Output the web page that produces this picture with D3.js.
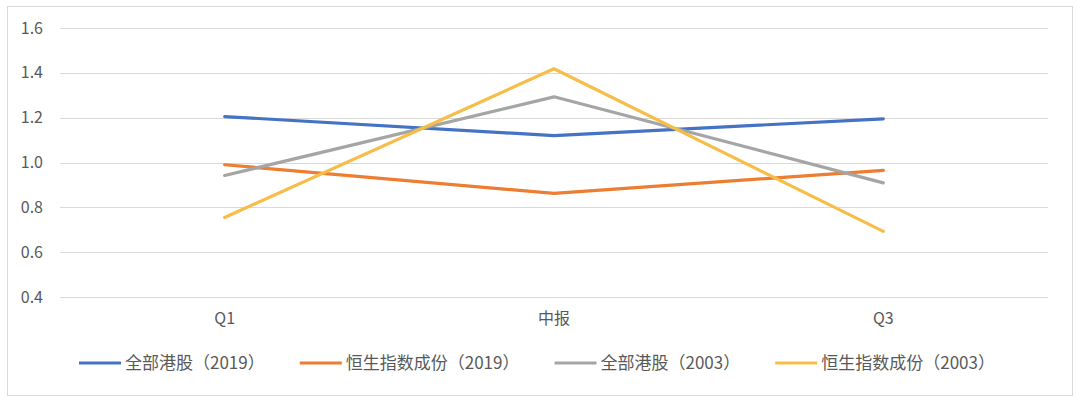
<!DOCTYPE html>
<html><head><meta charset="utf-8">
<script src="https://cdn.jsdelivr.net/npm/d3@7"></script>
<style>
html,body{margin:0;padding:0;background:#fff;}
text{font-family:"Noto Sans CJK SC","Noto Sans",sans-serif;fill:#595959;}
</style></head>
<body><svg id="c" width="1080" height="404"></svg>
<script>
const categories = ["Q1", "中报", "Q3"];
const seriesNames = ["全部港股（2019）", "恒生指数成份（2019）", "全部港股（2003）", "恒生指数成份（2003）"];
const allHK2019 = [1.205, 1.12, 1.195];
const hsi2019 = [0.99, 0.862, 0.965];
const allHK2003 = [0.942, 1.293, 0.909];
const hsi2003 = [0.755, 1.418, 0.693];
const yTicks = [0.4, 0.6, 0.8, 1.0, 1.2, 1.4, 1.6];
const colors = ["#4472C4", "#ED7D31", "#A5A5A5", "#F6BE48"];

const series = [allHK2019, hsi2019, allHK2003, hsi2003];
const svg = d3.select("#c");

svg.append("rect").attr("x", 7.5).attr("y", 6.5).attr("width", 1065).attr("height", 389)
  .attr("fill", "#fff").attr("stroke", "#d9d9d9").attr("stroke-width", 1);

const x = d3.scaleBand().domain(categories).range([60, 1048]);
const y = d3.scaleLinear().domain([0.4, 1.6]).range([297, 28]);

// grid
svg.append("g").selectAll("line").data(yTicks).join("line")
  .attr("x1", 60).attr("x2", 1048)
  .attr("y1", d => Math.round(y(d)) + 0.5).attr("y2", d => Math.round(y(d)) + 0.5)
  .attr("stroke", "#d9d9d9").attr("stroke-width", 1);

// y axis
const yAxis = svg.append("g").attr("transform", "translate(51,0)")
  .call(d3.axisLeft(y).tickValues(yTicks).tickFormat(d3.format(".1f")).tickSize(0).tickPadding(8));
yAxis.select(".domain").remove();
yAxis.selectAll("text").style("font-size", "16px").attr("fill", "#595959");

// x axis
const xAxis = svg.append("g").attr("transform", "translate(0,297)")
  .call(d3.axisBottom(x).tickSize(0).tickPadding(16));
xAxis.select(".domain").remove();
xAxis.selectAll("text").style("font-size", "16px").attr("fill", "#595959");

const line = d3.line().x((d, i) => x(categories[i]) + x.bandwidth() / 2).y(d => y(d));
svg.append("g").selectAll("path").data(series).join("path")
  .attr("d", d => line(d)).attr("fill", "none")
  .attr("stroke", (d, i) => colors[i]).attr("stroke-width", 3.2)
  .attr("stroke-linecap", "round").attr("stroke-linejoin", "round");

// legend
const lg = svg.append("g");
const items = lg.selectAll("g").data(seriesNames).join("g");
items.append("line").attr("x1", 0).attr("x2", 42).attr("y1", 0).attr("y2", 0)
  .attr("stroke", (d, i) => colors[i]).attr("stroke-width", 3.2);
items.append("text").attr("x", 46).attr("y", 0).attr("dy", "0.35em")
  .style("font-size", "17px").text(d => d);
let widths = [];
items.each(function() { widths.push(46 + d3.select(this).select("text").node().getComputedTextLength()); });
const gap = 35;
const total = d3.sum(widths) + gap * (widths.length - 1);
let cx = 537 - total / 2;
items.attr("transform", (d, i) => { const t = `translate(${cx},363)`; cx += widths[i] + gap; return t; });
</script></body></html>
